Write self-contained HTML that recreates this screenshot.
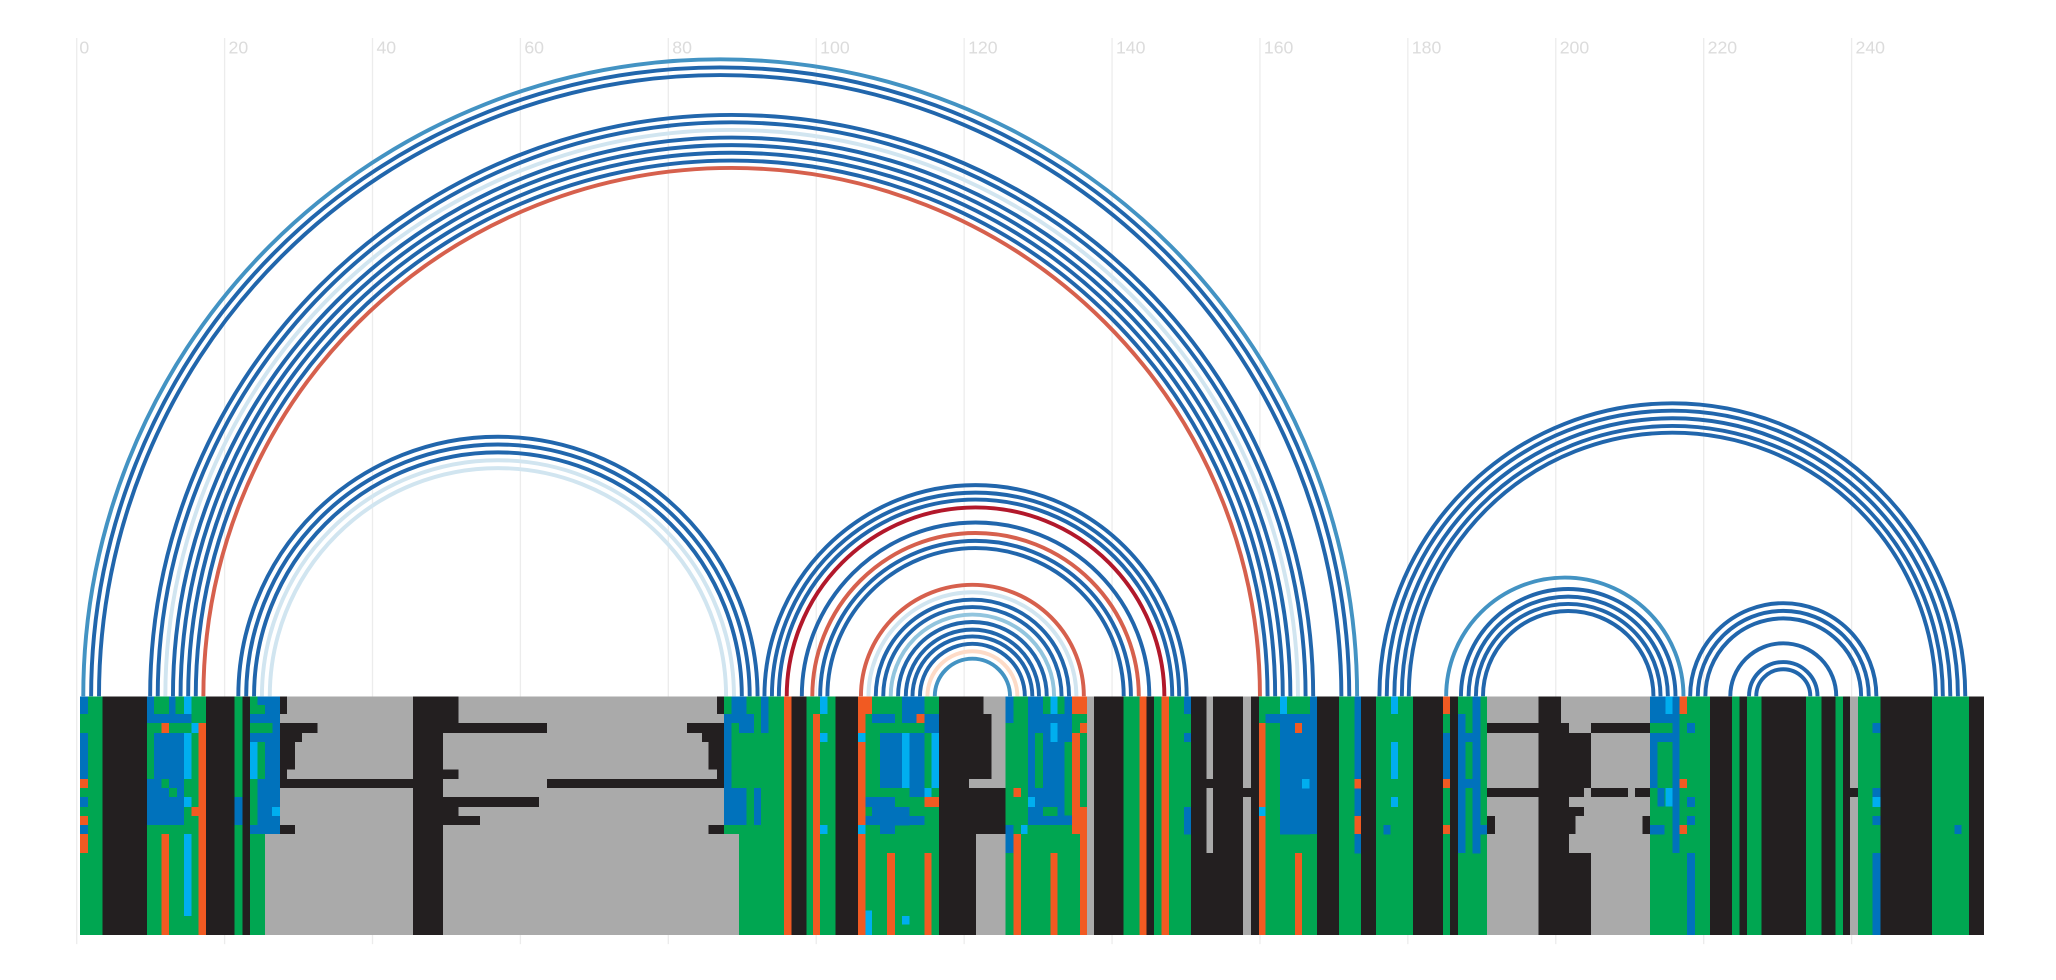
<!DOCTYPE html>
<html><head><meta charset="utf-8">
<style>
html,body{margin:0;padding:0;background:#fff;}
svg{display:block;}
.g{fill:#00a651}.k{fill:#231f20}.a{fill:#aaaaaa}.b{fill:#0072bc}.c{fill:#00aeef}.o{fill:#f15a22}
.d{stroke:#2166ac}.l{stroke:#d1e5f0}.m{stroke:#4393c3}.r{stroke:#d6604d}.cr{stroke:#b2182b}.p{stroke:#fddbc7}.lb{stroke:#92c5de}
path{fill:none;stroke-width:3}
text{font-family:"Liberation Sans",sans-serif;font-size:13.5px;fill:#dcdcdc}
</style></head><body>
<svg width="2056" height="980" viewBox="0 0 1568 747.4" preserveAspectRatio="none" xmlns="http://www.w3.org/2000/svg">
<g stroke="#ececec" stroke-width="1">
<line x1="58.5" y1="29" x2="58.5" y2="720"/><line x1="171.3" y1="29" x2="171.3" y2="720"/><line x1="284.1" y1="29" x2="284.1" y2="720"/><line x1="396.9" y1="29" x2="396.9" y2="720"/><line x1="509.7" y1="29" x2="509.7" y2="720"/><line x1="622.5" y1="29" x2="622.5" y2="720"/><line x1="735.3" y1="29" x2="735.3" y2="720"/><line x1="848.1" y1="29" x2="848.1" y2="720"/><line x1="960.9" y1="29" x2="960.9" y2="720"/><line x1="1073.7" y1="29" x2="1073.7" y2="720"/><line x1="1186.5" y1="29" x2="1186.5" y2="720"/><line x1="1299.3" y1="29" x2="1299.3" y2="720"/><line x1="1412.1" y1="29" x2="1412.1" y2="720"/>
</g>
<g>
<text x="60.5" y="41">0</text><text x="174.3" y="41">20</text><text x="287.1" y="41">40</text><text x="399.9" y="41">60</text><text x="512.7" y="41">80</text><text x="625.5" y="41">100</text><text x="738.3" y="41">120</text><text x="851.1" y="41">140</text><text x="963.9" y="41">160</text><text x="1076.7" y="41">180</text><text x="1189.5" y="41">200</text><text x="1302.3" y="41">220</text><text x="1415.1" y="41">240</text>
</g>
<g>
<path class="m" d="M63.5 531 A485.75 485.75 0 0 1 1035 531"/>
<path class="d" d="M69.5 531 A479.75 479.75 0 0 1 1029 531"/>
<path class="d" d="M75.5 531 A473.75 473.75 0 0 1 1023 531"/>
<path class="d" d="M114.5 531 A443.5 443.5 0 0 1 1001.5 531"/>
<path class="d" d="M120.3 531 A437.7 437.7 0 0 1 995.7 531"/>
<path class="l" d="M126.1 531 A431.9 431.9 0 0 1 989.9 531"/>
<path class="d" d="M131.9 531 A426.1 426.1 0 0 1 984.1 531"/>
<path class="d" d="M137.7 531 A420.3 420.3 0 0 1 978.3 531"/>
<path class="d" d="M143.5 531 A414.5 414.5 0 0 1 972.5 531"/>
<path class="d" d="M149.3 531 A408.7 408.7 0 0 1 966.7 531"/>
<path class="r" d="M155.1 531 A402.9 402.9 0 0 1 960.9 531"/>
<path class="d" d="M181.75 531 A198 198 0 0 1 577.75 531"/>
<path class="d" d="M187.75 531 A192 192 0 0 1 571.75 531"/>
<path class="d" d="M193.75 531 A186 186 0 0 1 565.75 531"/>
<path class="l" d="M199.75 531 A180 180 0 0 1 559.75 531"/>
<path class="l" d="M205.75 531 A174 174 0 0 1 553.75 531"/>
<path class="d" d="M583 531 A161 161 0 0 1 905 531"/>
<path class="d" d="M588.7 531 A155.3 155.3 0 0 1 899.3 531"/>
<path class="d" d="M594 531 A150 150 0 0 1 894 531"/>
<path class="cr" d="M600 531 A144 144 0 0 1 888 531"/>
<path class="d" d="M611.5 531 A132.5 132.5 0 0 1 876.5 531"/>
<path class="r" d="M619.5 531 A124.5 124.5 0 0 1 868.5 531"/>
<path class="d" d="M625.5 531 A118.5 118.5 0 0 1 862.5 531"/>
<path class="d" d="M631 531 A113 113 0 0 1 857 531"/>
<path class="r" d="M656.6 531 A85 85 0 0 1 826.6 531"/>
<path class="l" d="M662.3 531 A79.3 79.3 0 0 1 820.9 531"/>
<path class="d" d="M667.9 531 A73.7 73.7 0 0 1 815.3 531"/>
<path class="d" d="M673.6 531 A68 68 0 0 1 809.6 531"/>
<path class="lb" d="M679.3 531 A62.3 62.3 0 0 1 803.9 531"/>
<path class="d" d="M684.9 531 A56.7 56.7 0 0 1 798.3 531"/>
<path class="d" d="M690.8 531 A50.8 50.8 0 0 1 792.4 531"/>
<path class="d" d="M695.9 531 A45.7 45.7 0 0 1 787.3 531"/>
<path class="d" d="M701.6 531 A40 40 0 0 1 781.6 531"/>
<path class="p" d="M707.3 531 A34.3 34.3 0 0 1 775.9 531"/>
<path class="m" d="M712.9 531 A28.7 28.7 0 0 1 770.3 531"/>
<path class="m" d="M1102.9 531 A90.5 90.5 0 0 1 1283.9 531"/>
<path class="d" d="M1114.2 531 A81.8 81.8 0 0 1 1277.8 531"/>
<path class="d" d="M1120 531 A76 76 0 0 1 1272 531"/>
<path class="d" d="M1125.6 531 A70.4 70.4 0 0 1 1266.4 531"/>
<path class="d" d="M1131 531 A65 65 0 0 1 1261 531"/>
<path class="d" d="M1052 531 A223.4 223.4 0 0 1 1498.8 531"/>
<path class="d" d="M1057.6 531 A217.8 217.8 0 0 1 1493.2 531"/>
<path class="d" d="M1063.4 531 A212 212 0 0 1 1487.4 531"/>
<path class="d" d="M1069.1 531 A206.3 206.3 0 0 1 1481.7 531"/>
<path class="d" d="M1074.4 531 A201 201 0 0 1 1476.4 531"/>
<path class="d" d="M1289 531 A71 71 0 0 1 1431 531"/>
<path class="d" d="M1294.8 531 A65.2 65.2 0 0 1 1425.2 531"/>
<path class="d" d="M1300.6 531 A59.4 59.4 0 0 1 1419.4 531"/>
<path class="d" d="M1319.6 531 A40.4 40.4 0 0 1 1400.4 531"/>
<path class="d" d="M1333.9 531 A26.1 26.1 0 0 1 1386.1 531"/>
<path class="d" d="M1339.4 531 A20.6 20.6 0 0 1 1380.6 531"/>
</g>
<g shape-rendering="crispEdges">
<rect class="g" x="61" y="531" width="17" height="182"/>
<rect class="k" x="78" y="531" width="34" height="182"/>
<rect class="g" x="112" y="531" width="45" height="182"/>
<rect class="k" x="157" y="531" width="22" height="182"/>
<rect class="g" x="179" y="531" width="6" height="182"/>
<rect class="k" x="185" y="531" width="5.5" height="182"/>
<rect class="g" x="190.5" y="531" width="11.5" height="182"/>
<rect class="a" x="202" y="531" width="361.5" height="182"/>
<rect class="k" x="315" y="531" width="23" height="182"/>
<rect class="g" x="563.5" y="531" width="34.5" height="182"/>
<rect class="o" x="598" y="531" width="5.5" height="182"/>
<rect class="k" x="603.5" y="531" width="11.5" height="182"/>
<rect class="g" x="615" y="531" width="22" height="182"/>
<rect class="k" x="637" y="531" width="17.5" height="182"/>
<rect class="o" x="654.5" y="531" width="5.5" height="182"/>
<rect class="g" x="660" y="531" width="56" height="182"/>
<rect class="k" x="716" y="531" width="28.5" height="182"/>
<rect class="a" x="744.5" y="531" width="22.5" height="182"/>
<rect class="g" x="767" y="531" width="62" height="182"/>
<rect class="a" x="829" y="531" width="5.5" height="182"/>
<rect class="k" x="834.5" y="531" width="22.5" height="182"/>
<rect class="g" x="857" y="531" width="12" height="182"/>
<rect class="o" x="869" y="531" width="5.5" height="182"/>
<rect class="k" x="874.5" y="531" width="5.5" height="182"/>
<rect class="g" x="880" y="531" width="6" height="182"/>
<rect class="o" x="886" y="531" width="5.5" height="182"/>
<rect class="g" x="891.5" y="531" width="17" height="182"/>
<rect class="k" x="908.5" y="531" width="51.5" height="182"/>
<rect class="g" x="960" y="531" width="44.5" height="182"/>
<rect class="k" x="1004.5" y="531" width="16.5" height="182"/>
<rect class="g" x="1021" y="531" width="17" height="182"/>
<rect class="k" x="1038" y="531" width="11.5" height="182"/>
<rect class="g" x="1049.5" y="531" width="28" height="182"/>
<rect class="k" x="1077.5" y="531" width="23" height="182"/>
<rect class="g" x="1100.5" y="531" width="5.5" height="182"/>
<rect class="k" x="1106" y="531" width="6" height="182"/>
<rect class="g" x="1112" y="531" width="22" height="182"/>
<rect class="a" x="1134" y="531" width="39.5" height="182"/>
<rect class="k" x="1173.5" y="531" width="23" height="182"/>
<rect class="a" x="1196.5" y="531" width="62" height="182"/>
<rect class="g" x="1258.5" y="531" width="45.5" height="182"/>
<rect class="k" x="1304" y="531" width="17" height="182"/>
<rect class="g" x="1321" y="531" width="5.5" height="182"/>
<rect class="k" x="1326.5" y="531" width="6" height="182"/>
<rect class="g" x="1332.5" y="531" width="11" height="182"/>
<rect class="k" x="1343.5" y="531" width="34" height="182"/>
<rect class="g" x="1377.5" y="531" width="11.5" height="182"/>
<rect class="k" x="1389" y="531" width="11" height="182"/>
<rect class="g" x="1400" y="531" width="5.5" height="182"/>
<rect class="k" x="1405.5" y="531" width="5.5" height="182"/>
<rect class="a" x="1411" y="531" width="6" height="182"/>
<rect class="g" x="1417" y="531" width="17" height="182"/>
<rect class="k" x="1434" y="531" width="39.5" height="182"/>
<rect class="g" x="1473.5" y="531" width="28" height="182"/>
<rect class="k" x="1501.5" y="531" width="11.5" height="182"/>

<rect class="b" x="61" y="531" width="6" height="13.6"/>
<rect class="b" x="61" y="559" width="6" height="35.2"/>
<rect class="o" x="61" y="594.2" width="6" height="6.9"/>
<rect class="b" x="61" y="607.9" width="6" height="7.6"/>
<rect class="o" x="61" y="622.4" width="6" height="6.9"/>
<rect class="b" x="61" y="629.3" width="6" height="6.9"/>
<rect class="o" x="61" y="636.2" width="6" height="14.5"/>
<rect class="b" x="112" y="531" width="5.5" height="13.6"/>
<rect class="b" x="129" y="531" width="5" height="13.6"/>
<rect class="c" x="140.5" y="531" width="5.5" height="13.6"/>
<rect class="b" x="112" y="544.6" width="34" height="6.8"/>
<rect class="o" x="123" y="551.4" width="6" height="7.6"/>
<rect class="c" x="146" y="551.4" width="5.5" height="7.6"/>
<rect class="o" x="151.5" y="551.4" width="5.5" height="161.6"/>
<rect class="b" x="117.5" y="559" width="23" height="70.3"/>
<rect class="c" x="140.5" y="559" width="5.5" height="35"/>
<rect class="b" x="112" y="594" width="5.5" height="35"/>
<rect class="g" x="123" y="594.2" width="6" height="6.9"/>
<rect class="g" x="129" y="601" width="6" height="7"/>
<rect class="o" x="123" y="636.2" width="6" height="76.8"/>
<rect class="c" x="140.5" y="636.2" width="5.5" height="62.4"/>
<rect class="c" x="140.5" y="607.9" width="5.5" height="7.6"/>
<rect class="o" x="146" y="615.5" width="5.5" height="7"/>
<rect class="b" x="179" y="607.9" width="6" height="21.4"/>
<rect class="b" x="196.5" y="531" width="6" height="6.8"/>
<rect class="b" x="202" y="531" width="11.5" height="105.2"/>
<rect class="b" x="190.5" y="544.6" width="17" height="6.8"/>
<rect class="b" x="190.5" y="559" width="12" height="7"/>
<rect class="c" x="190.5" y="566" width="6" height="28.2"/>
<rect class="g" x="202" y="551.4" width="6" height="7.6"/>
<rect class="b" x="196.5" y="594.2" width="17" height="35.1"/>
<rect class="b" x="190.5" y="629.3" width="23" height="6.9"/>
<rect class="c" x="207.5" y="615.5" width="6" height="7"/>
<rect class="k" x="213.5" y="531" width="5.5" height="13.6"/>
<rect class="k" x="213.5" y="551.4" width="28.5" height="7.6"/>
<rect class="k" x="213.5" y="559" width="17" height="7"/>
<rect class="k" x="213.5" y="566" width="11.5" height="21"/>
<rect class="k" x="213.5" y="587" width="5.5" height="7.2"/>
<rect class="k" x="213.5" y="594.2" width="101.5" height="6.9"/>
<rect class="k" x="417" y="594.2" width="135" height="6.9"/>
<rect class="k" x="338" y="531" width="11.5" height="20.4"/>
<rect class="k" x="338" y="551.4" width="79" height="7.6"/>
<rect class="k" x="524" y="551.4" width="28" height="7.6"/>
<rect class="k" x="535.5" y="559" width="16.5" height="7"/>
<rect class="k" x="540.5" y="566" width="11.5" height="21"/>
<rect class="k" x="547" y="587" width="5" height="7.2"/>
<rect class="k" x="338" y="587" width="11.5" height="7.2"/>
<rect class="k" x="547" y="531" width="5" height="13.6"/>
<rect class="k" x="338" y="607.9" width="73" height="7.6"/>
<rect class="k" x="338" y="615.5" width="11.5" height="7"/>
<rect class="k" x="338" y="622.4" width="28" height="6.9"/>
<rect class="k" x="213.5" y="629.3" width="11.5" height="6.9"/>
<rect class="k" x="540.5" y="629.3" width="11.5" height="6.9"/>
<rect class="g" x="552" y="531" width="11.5" height="105.2"/>
<rect class="b" x="558" y="531" width="11.5" height="13.6"/>
<rect class="b" x="580.5" y="531" width="5.5" height="27.9"/>
<rect class="b" x="552" y="544.6" width="23" height="6.8"/>
<rect class="b" x="552" y="551.4" width="6" height="77.9"/>
<rect class="b" x="563.5" y="551.4" width="11.5" height="7.6"/>
<rect class="b" x="552" y="601.1" width="17.5" height="28.2"/>
<rect class="b" x="575" y="601.1" width="5.5" height="28.2"/>
<rect class="o" x="620" y="544.6" width="5.5" height="168.4"/>
<rect class="c" x="625.5" y="531" width="5.5" height="13.6"/>
<rect class="c" x="625.5" y="559" width="5.5" height="7"/>
<rect class="c" x="625.5" y="629.3" width="5.5" height="6.9"/>
<rect class="o" x="654.5" y="531" width="10.5" height="13.6"/>
<rect class="c" x="654.5" y="559" width="5.5" height="7"/>
<rect class="c" x="654.5" y="629.3" width="5.5" height="6.9"/>
<rect class="b" x="665" y="544.6" width="17.5" height="6.8"/>
<rect class="b" x="688" y="531" width="17" height="13.6"/>
<rect class="b" x="688" y="544.6" width="11" height="6.8"/>
<rect class="o" x="699" y="544.6" width="6" height="6.8"/>
<rect class="b" x="705" y="544.6" width="11" height="14.4"/>
<rect class="b" x="671" y="559" width="17" height="42"/>
<rect class="c" x="688" y="559" width="5.5" height="42"/>
<rect class="b" x="693.5" y="559" width="11.5" height="42"/>
<rect class="c" x="710.5" y="559" width="5.5" height="42"/>
<rect class="b" x="693.5" y="601.1" width="11.5" height="6.8"/>
<rect class="c" x="705" y="601.1" width="5.5" height="6.8"/>
<rect class="o" x="705" y="607.9" width="11" height="7.6"/>
<rect class="b" x="660" y="607.9" width="22.5" height="7.6"/>
<rect class="b" x="665" y="615.5" width="28" height="6.9"/>
<rect class="b" x="660" y="622.4" width="45" height="6.9"/>
<rect class="b" x="682.5" y="615.5" width="11" height="14"/>
<rect class="b" x="671" y="629.3" width="11.5" height="6.9"/>
<rect class="c" x="660" y="694.4" width="5" height="18.6"/>
<rect class="o" x="676.5" y="650.7" width="6" height="62.3"/>
<rect class="o" x="705" y="650.7" width="5.5" height="62.3"/>
<rect class="c" x="688" y="698.6" width="5.5" height="6.4"/>
<rect class="k" x="744.5" y="531" width="5.5" height="13.6"/>
<rect class="k" x="744.5" y="544.6" width="11.5" height="49.6"/>
<rect class="k" x="744.5" y="601.1" width="22.5" height="35.1"/>
<rect class="a" x="739" y="594.2" width="5.5" height="6.9"/>
<rect class="b" x="767" y="531" width="6" height="20.4"/>
<rect class="b" x="767" y="629.3" width="6" height="21.4"/>
<rect class="o" x="773" y="601.1" width="5.5" height="6.8"/>
<rect class="o" x="773" y="636.2" width="5.5" height="76.8"/>
<rect class="c" x="778.5" y="629" width="5" height="7"/>
<rect class="b" x="784" y="531" width="11.5" height="13.6"/>
<rect class="c" x="801" y="531" width="5.5" height="13.6"/>
<rect class="b" x="812" y="531" width="5.5" height="13.6"/>
<rect class="o" x="817.5" y="531" width="11.5" height="13.6"/>
<rect class="b" x="784" y="544.6" width="33.5" height="84.7"/>
<rect class="g" x="789.5" y="559" width="6" height="42"/>
<rect class="g" x="812" y="566" width="5.5" height="56"/>
<rect class="g" x="795.5" y="615.5" width="11" height="7"/>
<rect class="c" x="801" y="551.4" width="5.5" height="14.6"/>
<rect class="o" x="817.5" y="559" width="6" height="77"/>
<rect class="o" x="823.5" y="551.4" width="5.5" height="7.6"/>
<rect class="o" x="823.5" y="615.5" width="5.5" height="97.5"/>
<rect class="o" x="801" y="650.7" width="5.5" height="62.3"/>
<rect class="c" x="784" y="607.9" width="5.5" height="7.6"/>
<rect class="b" x="903" y="531" width="5.5" height="13.6"/>
<rect class="b" x="903" y="559" width="5.5" height="7"/>
<rect class="b" x="903" y="615.5" width="5.5" height="21"/>
<rect class="a" x="920" y="531" width="5" height="63"/>
<rect class="a" x="920" y="601.1" width="5" height="49.6"/>
<rect class="a" x="948" y="531" width="6" height="70"/>
<rect class="a" x="948" y="608" width="6" height="105"/>
<rect class="o" x="960" y="551.4" width="5" height="161.6"/>
<rect class="c" x="960" y="615.5" width="5" height="7"/>
<rect class="b" x="965" y="544.6" width="34.5" height="6.8"/>
<rect class="c" x="976" y="531" width="5.5" height="13.6"/>
<rect class="b" x="976" y="551.4" width="23" height="85"/>
<rect class="c" x="993" y="594.2" width="5.5" height="7"/>
<rect class="o" x="987.5" y="551.4" width="5.5" height="7.6"/>
<rect class="o" x="987.5" y="650.7" width="5.5" height="62.3"/>
<rect class="b" x="999" y="531" width="5.5" height="105"/>
<rect class="b" x="1033" y="531" width="5" height="120"/>
<rect class="o" x="1033" y="594.2" width="5" height="7"/>
<rect class="o" x="1033" y="622.4" width="5" height="13.8"/>
<rect class="c" x="1061" y="531" width="5" height="13.6"/>
<rect class="c" x="1061" y="566" width="5" height="28"/>
<rect class="c" x="1061" y="607.9" width="5" height="7.6"/>
<rect class="b" x="1055" y="629.3" width="5.5" height="7"/>
<rect class="o" x="1100.5" y="531" width="5.5" height="13.6"/>
<rect class="b" x="1100.5" y="559" width="5.5" height="35"/>
<rect class="o" x="1100.5" y="594.2" width="5.5" height="6.9"/>
<rect class="o" x="1100.5" y="629.3" width="5.5" height="6.9"/>
<rect class="b" x="1112" y="544.6" width="5.5" height="106"/>
<rect class="b" x="1123" y="531" width="6" height="120"/>
<rect class="b" x="1112" y="559" width="17" height="7"/>
<rect class="b" x="1117.5" y="594" width="11.5" height="7"/>
<rect class="b" x="1123" y="629.3" width="11" height="7"/>
<rect class="a" x="1190.5" y="531" width="6" height="20.4"/>
<rect class="k" x="1134" y="551.4" width="62.5" height="7.6"/>
<rect class="k" x="1213.5" y="551.4" width="45" height="7.6"/>
<rect class="k" x="1196.5" y="559" width="17" height="42"/>
<rect class="k" x="1134" y="601.1" width="74" height="6.8"/>
<rect class="k" x="1213.5" y="601.1" width="28" height="6.8"/>
<rect class="k" x="1247" y="601.1" width="11.5" height="6.8"/>
<rect class="k" x="1196.5" y="615.5" width="11.5" height="6.9"/>
<rect class="k" x="1196.5" y="622.4" width="5" height="13.8"/>
<rect class="k" x="1134" y="622.4" width="6" height="13.8"/>
<rect class="k" x="1252.5" y="622.4" width="6" height="13.8"/>
<rect class="k" x="1196.5" y="650.7" width="17" height="62.3"/>
<rect class="b" x="1258.5" y="531" width="22.5" height="20.4"/>
<rect class="c" x="1270" y="531" width="5.5" height="13.6"/>
<rect class="o" x="1281" y="531" width="5.5" height="13.6"/>
<rect class="b" x="1258.5" y="559" width="22.5" height="7"/>
<rect class="b" x="1258.5" y="566" width="5.5" height="35"/>
<rect class="b" x="1275.5" y="551.4" width="5.5" height="99"/>
<rect class="o" x="1281" y="594.2" width="5.5" height="6.9"/>
<rect class="b" x="1264" y="601.1" width="5.5" height="14"/>
<rect class="c" x="1270" y="601.1" width="5.5" height="14"/>
<rect class="o" x="1281" y="629.3" width="5.5" height="6.9"/>
<rect class="b" x="1258.5" y="629.3" width="11" height="7"/>
<rect class="b" x="1286.5" y="551.4" width="6" height="7.6"/>
<rect class="b" x="1286.5" y="607.9" width="6" height="7.6"/>
<rect class="b" x="1286.5" y="622.4" width="6" height="6.9"/>
<rect class="b" x="1286.5" y="650.7" width="6" height="62.3"/>
<rect class="k" x="1411" y="601.1" width="6" height="6.8"/>
<rect class="b" x="1428" y="551.4" width="6" height="7.6"/>
<rect class="b" x="1428" y="601.1" width="6" height="6.8"/>
<rect class="c" x="1428" y="607.9" width="6" height="7.6"/>
<rect class="b" x="1428" y="622.4" width="6" height="6.9"/>
<rect class="b" x="1428" y="650.7" width="6" height="62.3"/>
<rect class="b" x="1490.5" y="629.3" width="5.5" height="6.9"/>
</g>
</svg>
</body></html>
